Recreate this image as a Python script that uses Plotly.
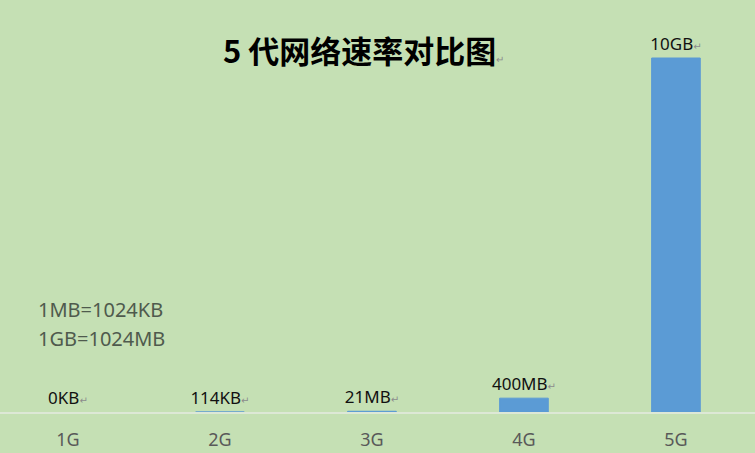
import plotly.graph_objects as go

# speeds by generation, in MB
generations = ["1G", "2G", "3G", "4G", "5G"]
speed_mb = [0, 114 / 1024, 21, 400, 10240]
speed_labels = ["0KB", "114KB", "21MB", "400MB", "10GB"]

title_text = "5 代网络速率对比图"
unit_notes = ["1MB=1024KB", "1GB=1024MB"]

BG = "#C5E0B4"
BAR = "#5B9BD5"
GRAY = "#595959"
RET = '<span style="font-size:10px;color:#8c8c8c">↵</span>'

fig = go.Figure()
fig.add_trace(
    go.Bar(
        x=generations,
        y=speed_mb,
        width=0.32,
        # thin outline keeps the tiny 2G/3G bars visible, as in the original
        marker=dict(color=BAR, line=dict(color=BAR, width=[0, 1, 1, 1, 1])),
        text=[lbl + RET for lbl in speed_labels],
        textposition="outside",
        constraintext="none",
        textfont=dict(family="Noto Sans, DejaVu Sans", size=17, color="#111111"),
        cliponaxis=False,
        hoverinfo="skip",
    )
)

fig.add_annotation(
    text=f"<b>{title_text}</b>" + RET,
    xref="paper",
    yref="paper",
    x=221 / 755,
    y=0.881,
    xanchor="left",
    yanchor="middle",
    showarrow=False,
    font=dict(family="Noto Sans CJK SC", size=31, color="#000000"),
)

for i, note in enumerate(unit_notes):
    fig.add_annotation(
        text=note,
        xref="paper",
        yref="paper",
        x=36 / 755,
        y=[0.2476, 0.1796][i],
        xanchor="left",
        yanchor="middle",
        showarrow=False,
        font=dict(family="Noto Sans", size=20, color="#4f5a4d"),
    )

fig.update_layout(
    width=755,
    height=453,
    margin=dict(l=0, r=0, t=0, b=41),
    paper_bgcolor=BG,
    plot_bgcolor=BG,
    showlegend=False,
    xaxis=dict(
        range=[-0.447, 4.52],
        showgrid=False,
        showline=True,
        linecolor="#dde8d6",
        linewidth=2,
        ticks="",
        ticklabelstandoff=10,
        tickfont=dict(family="Noto Sans", size=18, color=GRAY),
    ),
    yaxis=dict(
        range=[0, 11918],
        visible=False,
    ),
)

# drop the default page margin so the chart sits at the window corner
fig.write_html(
    "out.html",
    config={"displayModeBar": False},
    post_script="document.body.style.margin='0';",
)
